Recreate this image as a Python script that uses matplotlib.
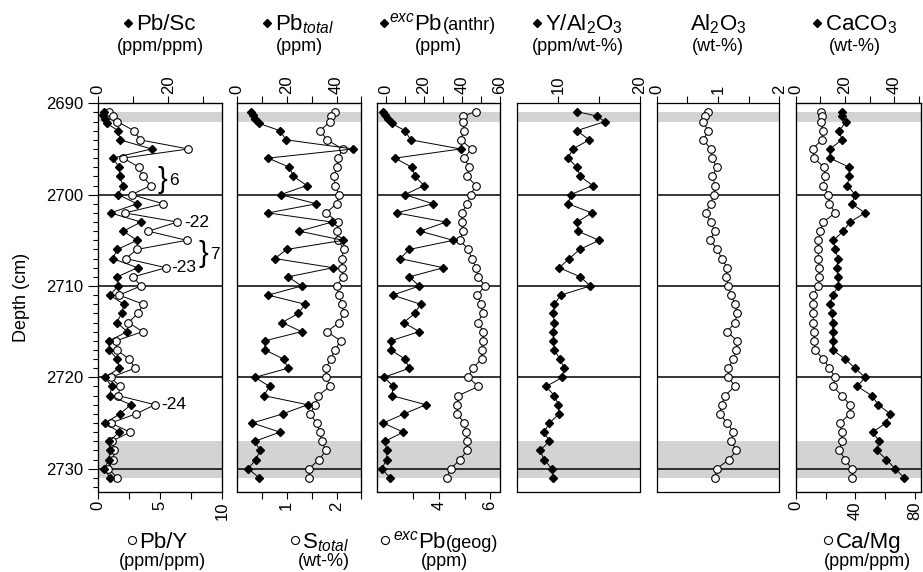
import matplotlib
matplotlib.use('Agg')
import matplotlib.pyplot as plt
from matplotlib.lines import Line2D

plt.rcParams['font.family'] = ['Liberation Sans', 'DejaVu Sans']
plt.rcParams['mathtext.fontset'] = 'custom'
plt.rcParams['mathtext.rm'] = 'Liberation Sans'
plt.rcParams['mathtext.it'] = 'Liberation Sans:italic'
plt.rcParams['mathtext.bf'] = 'Liberation Sans:bold'

# sample depths (cm)
depth_top4 = [2690.9, 2691.3, 2691.7, 2692.2]
depth_top3 = [2690.9, 2691.4, 2692.0]
depth_main = list(range(2693, 2732))
d4 = depth_top4 + depth_main
d3 = depth_top3 + depth_main

pb_sc = [1.7, 1.4, 1.9, 2.4,
         5.7, 6.2, 15.2, 4.1, 6.0, 6.2, 7.0, 5.7, 11.1, 3.5, 12.2, 7.1, 11.1, 5.4, 4.1, 11.2,
         5.4, 5.7, 3.3, 7.3, 6.7, 5.2, 8.3, 3.1, 3.1, 5.4, 6.0, 1.9, 3.8, 3.3, 9.3, 6.2,
         1.9, 6.0, 3.1, 3.3, 3.0, 1.7, 3.3]
pb_y = [0.89, 1.16, 1.53,
        2.88, 3.36, 7.26, 2.02, 3.28, 3.58, 4.23, 2.69, 5.24, 2.15, 6.37, 4.03, 7.13, 3.10,
        2.23, 5.46, 2.82, 3.42, 1.69, 3.63, 3.2, 2.42, 3.58, 1.43, 1.48, 2.5, 2.96, 1.0,
        1.75, 1.61, 4.57, 3.04, 1.0, 2.56, 1.08, 1.29, 1.21, 0.81, 1.53]
pb_total = [5.9, 6.6, 7.3, 9.0,
            17.3, 19.8, 46.7, 12.6, 21.1, 22.7, 28.1, 17.6, 31.9, 12.6, 38.2, 25.1, 42.6,
            20.0, 15.3, 38.6, 20.6, 26.0, 12.6, 27.4, 24.7, 18.2, 26.0, 11.3, 11.3, 18.8,
            20.6, 7.3, 13.2, 10.8, 28.4, 18.5, 6.3, 17.3, 7.3, 9.3, 7.7, 4.6, 9.0]
s_total = [1.97, 1.88, 1.87,
           1.67, 1.81, 2.12, 2.03, 2.0, 1.95, 1.97, 2.05, 2.0, 1.79, 2.03, 2.01, 2.03, 2.15,
           2.1, 2.1, 2.13, 2.0, 2.05, 2.1, 2.15, 2.05, 1.81, 2.08, 1.97, 1.88, 1.79, 1.79,
           1.87, 1.63, 1.57, 1.47, 1.6, 1.67, 1.7, 1.79, 1.65, 1.45, 1.45]
exc_anthr = [-1.4, -0.5, 1.2, 3.0,
             10, 13, 39.3, 4.7, 13.5, 15.3, 20, 10, 24.6, 5.6, 31.6, 17.9, 35.4, 12.3, 7.4,
             30.2, 12.3, 17.5, 3.5, 18.2, 15.1, 9.3, 17.5, 2.5, 2.5, 10, 12.3, -1.1, 3.9,
             3.0, 21, 9.5, -1.4, 9.1, -0.5, 0.4, 0.4, -2.3, 2.1]
exc_geog = [5.45, 4.93, 4.95,
            4.98, 4.85, 5.28, 4.98, 5.19, 5.09, 5.45, 5.24, 5.11, 4.89, 4.89, 4.93, 4.82,
            5.15, 5.28, 5.45, 5.54, 5.8, 5.5, 5.65, 5.72, 5.52, 5.74, 5.71, 5.67, 5.67, 5.32,
            5.15, 5.54, 4.76, 4.72, 4.72, 4.98, 5.06, 5.11, 5.11, 4.82, 4.47, 4.3]
y_al2o3 = [12.25, 14.7, 15.7,
           12.25, 13.8, 11.76, 11.2, 12.25, 12.7, 14.2, 11.5, 11.2, 14.1, 12.3, 12.4, 15.0,
           12.6, 11.35, 10.1, 12.7, 13.9, 10.3, 9.5, 9.4, 9.5, 9.4, 9.4, 9.5, 10.2, 10.7,
           10.5, 8.5, 9.5, 10.0, 10.1, 8.9, 8.25, 8.9, 7.76, 8.25, 9.2, 9.4]
al2o3 = [0.84, 0.79, 0.75,
         0.84, 0.76, 0.88, 0.9, 0.98, 0.91, 0.95, 0.93, 0.88, 0.8, 0.88, 0.95, 0.87, 0.99,
         1.06, 1.15, 1.13, 1.17, 1.21, 1.28, 1.31, 1.28, 1.15, 1.31, 1.3, 1.25, 1.17, 1.17,
         1.28, 1.11, 1.06, 1.03, 1.15, 1.25, 1.22, 1.3, 1.18, 0.98, 0.95]
caco3 = [18.7, 18.7, 20.4,
         17.7, 18.7, 13.9, 13.9, 21.7, 21.7, 20.9, 24.1, 22.7, 28.1, 22.0, 19.3, 15.3, 15.9,
         17.3, 16.6, 17.3, 17.3, 15.0, 13.9, 14.6, 15.0, 15.0, 15.0, 15.0, 20.0, 24.1, 28.1,
         25.0, 30.8, 33.5, 38.3, 36.6, 31.2, 33.9, 32.8, 36.8, 40.3, 44.0]
ca_mg = [16.8, 17.4, 16.8,
         18.1, 17.4, 11.4, 12.3, 19.0, 19.7, 18.5, 21.9, 22.6, 26.4, 18.5, 16.3, 15.2, 15.2,
         15.2, 15.9, 15.9, 15.2, 11.8, 11.8, 11.8, 11.8, 12.5, 12.3, 12.9, 18.5, 22.6, 26.4,
         25.2, 30.8, 36.4, 36.4, 29.7, 30.8, 30.8, 29.3, 33.1, 37.5, 38.0]

W, H = 923.0, 572.0
TOP, BOT = 103.3, 491.5
edges = [(98.3, 222.3), (236.7, 361.5), (376.7, 500.0),
         (516.7, 640.0), (656.7, 779.3), (795.7, 921.0)]

fig = plt.figure(figsize=(9.23, 5.72), dpi=100)


def make_ax(x0, x1):
    ax = fig.add_axes([x0 / W, 1 - BOT / H, (x1 - x0) / W, (BOT - TOP) / H])
    ax.set_ylim(2732.5, 2690)
    for a, b in [(2691, 2692), (2727, 2731)]:
        ax.axhspan(a, b, color='#d3d3d3', lw=0, zorder=0)
    for d in [2700, 2710, 2720, 2730]:
        ax.axhline(d, color='black', lw=1.1, zorder=1)
    for s in ax.spines.values():
        s.set_linewidth(0.9)
    return ax


def set_x(a, lim, major, labels, minor, top):
    a.set_xlim(*lim)
    a.set_xticks(major, labels=labels)
    a.set_xticks(minor, minor=True)
    a.tick_params(axis='x', which='both', direction='out', length=5, width=0.8,
                  labelsize=12, labelrotation=90, pad=2,
                  top=top, bottom=not top, labeltop=top, labelbottom=not top)


def diamonds(a, x, d):
    a.plot(x, d, color='black', lw=0.7, marker='D', ms=3.6, mfc='black', mec='black', zorder=4)


def circles(a, x, d):
    a.plot(x, d, color='black', lw=0.7, marker='o', ms=5.5, mfc='white', mec='black',
           mew=0.8, zorder=3)


axes = [make_ax(*e) for e in edges]

# panel 1
ax = axes[0]
tw = ax.twiny()
circles(ax, pb_y, d3)
diamonds(tw, pb_sc, d4)
set_x(ax, (0, 10), [0, 5, 10], ['0', '5', '10'], [2.5, 7.5], False)
set_x(tw, (0, 35.4), [0, 20], ['0', '20'], [10, 30], True)
ax.set_yticks(range(2690, 2731, 10))
ax.set_yticks(range(2690, 2733), minor=True)
ax.tick_params(axis='y', which='major', direction='out', length=7, width=0.8, labelsize=12, right=False)
ax.tick_params(axis='y', which='minor', direction='out', length=3.5, width=0.8, right=False)
ax.text(4.75, 2698.4, '}', fontsize=21, ha='left', va='center')
ax.text(5.75, 2698.5, '6', fontsize=12.5, ha='left', va='center')
ax.text(8.1, 2706.5, '}', fontsize=21, ha='left', va='center')
ax.text(9.0, 2706.6, '7', fontsize=12.5, ha='left', va='center')
ax.text(6.9, 2703, '-22', fontsize=12.5, ha='left', va='center')
ax.text(5.85, 2708, '-23', fontsize=12.5, ha='left', va='center')
ax.text(5.05, 2723, '-24', fontsize=12.5, ha='left', va='center')

# panel 2
ax = axes[1]
tw = ax.twiny()
circles(ax, s_total, d3)
diamonds(tw, pb_total, d4)
set_x(ax, (0, 2.5), [1, 2], ['1', '2'], [0.5, 1.5, 2.5], False)
set_x(tw, (0, 50), [0, 20, 40], ['0', '20', '40'], [10, 30, 50], True)

# panel 3
ax = axes[2]
tw = ax.twiny()
circles(ax, exc_geog, d3)
diamonds(tw, exc_anthr, d4)
set_x(ax, (1.56, 6.39), [4, 6], ['4', '6'], [3, 5], False)
set_x(tw, (-4.9, 60), [0, 20, 40, 60], ['0', '20', '40', '60'], [10, 30, 50], True)

# panel 4
ax = axes[3]
diamonds(ax, y_al2o3, d3)
set_x(ax, (4.9, 20), [10, 20], ['10', '20'], [15], True)

# panel 5
ax = axes[4]
circles(ax, al2o3, d3)
set_x(ax, (0, 2), [0, 1, 2], ['0', '1', '2'], [0.5, 1.5], True)

# panel 6
ax = axes[5]
tw = ax.twiny()
circles(ax, ca_mg, d3)
diamonds(tw, caco3, d3)
set_x(ax, (0, 84), [0, 40, 80], ['0', '40', '80'], [20, 60], False)
set_x(tw, (0, 50.8), [0, 20, 40], ['0', '20', '40'], [10, 30, 50], True)

for ax in axes[1:]:
    ax.tick_params(axis='y', which='both', left=False, right=False, labelleft=False)

fig.text(22 / W, 1 - 297 / H, 'Depth (cm)', rotation=90, ha='center', va='center', fontsize=13)

renderer = fig.canvas.get_renderer()


def header(xc, yb, pieces):
    items = []
    for p in pieces:
        if p[0] in ('D', 'o'):
            items.append(('m', p, p[1]))
        else:
            t = fig.text(0, 1 - yb / H, p[0], fontsize=p[1], ha='left', va='baseline')
            items.append(('t', t, t.get_window_extent(renderer).width))
    x = xc - sum(w for _, _, w in items) / 2
    for kind, obj, w in items:
        if kind == 't':
            obj.set_x(x / W)
        else:
            mk, _, dy = obj
            if mk == 'D':
                kw = dict(marker='D', ms=3.8, color='black')
            else:
                kw = dict(marker='o', ms=5.8, mfc='white', mec='black', mew=0.8)
            fig.add_artist(Line2D([(x + 3.5) / W], [1 - (yb - dy) / H],
                                  transform=fig.transFigure, ls='none', **kw))
        x += w


top_labels = [
    [('D', 11, 7), ('Pb/Sc', 16)],
    [('D', 11, 7), ('Pb$_{total}$', 16)],
    [('D', 9, 7), ('$^{exc}$Pb', 16), ('(anthr)', 13)],
    [('D', 11, 7), ('Y/Al$_2$O$_3$', 16)],
    [('Al$_2$O$_3$', 16)],
    [('D', 11, 7), ('CaCO$_3$', 16)],
]
top_units = ['(ppm/ppm)', '(ppm)', '(ppm)', '(ppm/wt-%)', '(wt-%)', '(wt-%)']
top_centers = [160, 299, 438, 578, 718, 855]
for c, lab, u in zip(top_centers, top_labels, top_units):
    header(c, 30, lab)
    header(c, 51, [(u, 13)])

bottom_labels = [
    (158, [('o', 11, 8), ('Pb/Y', 16)], '(ppm/ppm)'),
    (320, [('o', 11, 8), ('S$_{total}$', 16)], '(wt-%)'),
    (440, [('o', 11, 8), ('$^{exc}$Pb', 16), ('(geog)', 13)], '(ppm)'),
    (863, [('o', 11, 8), ('Ca/Mg', 16)], '(ppm/ppm)'),
]
for c, lab, u in bottom_labels:
    header(c, 548, lab)
    header(c + 4, 566, [(u, 13)])

fig.savefig('out.png', dpi=100)
